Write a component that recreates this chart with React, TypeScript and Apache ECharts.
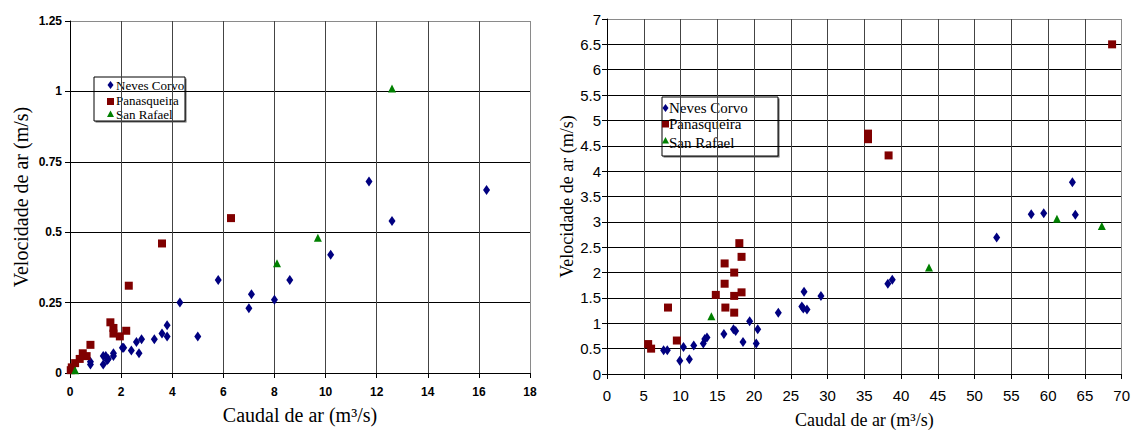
import React, { useEffect, useRef } from "react";
import * as echarts from "echarts";

// ---- Left chart data: [caudal (m3/s), velocidade (m/s)] ----
const leftNevesCorvo: number[][] = [
  [0.8, 0.04], [0.8, 0.03], [1.3, 0.06], [1.4, 0.06], [1.3, 0.03], [1.45, 0.045],
  [1.5, 0.05], [1.7, 0.07], [1.7, 0.06], [2.05, 0.09], [2.1, 0.09], [2.4, 0.08],
  [2.6, 0.11], [2.7, 0.07], [2.8, 0.12], [3.3, 0.12], [3.6, 0.14], [3.8, 0.17],
  [3.8, 0.13], [4.3, 0.25], [5.0, 0.13], [5.8, 0.33], [7.0, 0.23], [7.1, 0.28],
  [8.0, 0.26], [8.6, 0.33], [10.2, 0.42], [11.7, 0.68], [12.6, 0.54], [16.3, 0.65],
];
const leftPanasqueira: number[][] = [
  [0.03, 0.01], [0.07, 0.02], [0.2, 0.035], [0.38, 0.05], [0.5, 0.07], [0.65, 0.06],
  [0.8, 0.1], [1.58, 0.18], [1.7, 0.16], [1.7, 0.14], [1.95, 0.13], [2.2, 0.15],
  [2.3, 0.31], [3.6, 0.46], [6.3, 0.55],
];
const leftSanRafael: number[][] = [
  [0.2, 0.01], [8.1, 0.39], [9.7, 0.48], [12.6, 1.01],
];

// ---- Right chart data ----
const rightNevesCorvo: number[][] = [
  [7.7, 0.47], [8.2, 0.47], [9.9, 0.26], [10.4, 0.53], [11.2, 0.29], [11.8, 0.56],
  [13.1, 0.6], [13.3, 0.69], [13.6, 0.72], [15.9, 0.79], [17.2, 0.88], [17.5, 0.85],
  [18.5, 0.63], [19.4, 1.04], [20.3, 0.6], [20.5, 0.88], [23.3, 1.21], [26.5, 1.33],
  [26.7, 1.29], [27.2, 1.27], [26.8, 1.62], [29.1, 1.54], [38.2, 1.78], [38.8, 1.86],
  [53.0, 2.69], [57.7, 3.15], [59.4, 3.17], [63.3, 3.78], [63.7, 3.14],
];
const rightPanasqueira: number[][] = [
  [5.6, 0.59], [6.0, 0.5], [8.3, 1.31], [9.5, 0.66], [14.8, 1.56], [16.0, 2.18],
  [16.0, 1.78], [16.1, 1.31], [17.3, 2.0], [17.3, 1.54], [17.3, 1.21], [18.0, 2.58],
  [18.3, 2.31], [18.3, 1.61], [35.5, 4.74], [35.5, 4.63], [38.3, 4.31], [68.7, 6.5],
];
const rightSanRafael: number[][] = [
  [14.2, 1.14], [43.8, 2.1], [61.2, 3.06], [67.3, 2.92],
];

const seriesNames = ["Neves Corvo", "Panasqueira", "San Rafael"];
const seriesColors = ["#000080", "#800000", "#008000"];

const xTitle = "Caudal de ar (m³/s)";
const yTitle = "Velocidade de ar (m/s)";

const SERIF = "Liberation Serif, Times New Roman, serif";
const SANS = "Liberation Sans, Arial, sans-serif";

function makeOption() {
  const vCol = "#444";
  const hCol = "#000";
  const edge = "#8a8a8a";
  const leftX = { min: 0, max: 18, interval: 2 };
  const leftY = { min: 0, max: 1.25, interval: 0.25 };
  const rightX = { min: 0, max: 70, interval: 5 };
  const rightY = { min: 0, max: 7, interval: 0.5 };
  const colorsFor = (r: { min: number; max: number; interval: number }, c: string) => {
    const n = Math.round((r.max - r.min) / r.interval) + 1;
    const arr: string[] = [];
    for (let i = 0; i < n; i++) arr.push(i === n - 1 ? edge : c);
    return arr;
  };
  const axisCommon = {
    type: "value" as const,
    axisLine: { show: true, onZero: false, lineStyle: { color: "#000", width: 1 } },
    axisTick: { show: true, inside: false, length: 5, lineStyle: { color: "#000" } },
  };

  const mk = (data: number[][], idx: number, grid: number) => {
    const sym = ["diamond", "rect", "triangle"][idx];
    const size = idx === 0 ? [7, 10] : idx === 1 ? 8 : 8;
    return {
      name: seriesNames[idx],
      type: "scatter",
      xAxisIndex: grid,
      yAxisIndex: grid,
      data,
      symbol: sym,
      symbolSize: size,
      itemStyle: { color: seriesColors[idx], opacity: 1 },
      emphasis: { disabled: true },
    };
  };

  const legendBox = (
    x: number, y: number, w: number, h: number,
    rows: number[], markerX: number, textX: number, fontSize: number,
    markerRows: number[]
  ) => {
    const els: any[] = [
      { type: "rect", shape: { x: x + 1.5, y: y + 1.5, width: w, height: h }, style: { fill: "#666" }, silent: true },
      { type: "rect", shape: { x, y, width: w, height: h }, style: { fill: "#fff", stroke: "#000", lineWidth: 1 }, silent: true },
    ];
    const [d, s, t] = markerRows;
    els.push({
      type: "polygon",
      shape: { points: [[markerX, d - 4], [markerX + 3, d], [markerX, d + 4], [markerX - 3, d]] },
      style: { fill: seriesColors[0] },
    });
    els.push({
      type: "rect",
      shape: { x: markerX - 3.5, y: s - 3.5, width: 7, height: 7 },
      style: { fill: seriesColors[1] },
    });
    els.push({
      type: "polygon",
      shape: { points: [[markerX, t - 3.5], [markerX + 3.5, t + 3], [markerX - 3.5, t + 3]] },
      style: { fill: seriesColors[2] },
    });
    seriesNames.forEach((n, i) => {
      els.push({
        type: "text",
        x: textX,
        y: rows[i],
        style: {
          text: n,
          fill: "#000",
          fontFamily: SERIF,
          fontSize,
          align: "left",
          verticalAlign: "middle",
        },
      });
    });
    return els;
  };

  return {
    animation: false,
    backgroundColor: "#fff",
    grid: [
      { left: 70, top: 21, width: 460, height: 352 },
      { left: 607, top: 19, width: 518, height: 364 },
    ],
    xAxis: [
      {
        ...axisCommon,
        gridIndex: 0,
        ...leftX,
        axisLabel: { fontFamily: SANS, fontSize: 12, fontWeight: "bold", color: "#000", margin: 13 },
        splitLine: { show: true, lineStyle: { color: colorsFor(leftX, vCol), width: 1 } },
        name: xTitle,
        nameLocation: "middle",
        nameGap: 32,
        nameTextStyle: { fontFamily: SERIF, fontSize: 20, color: "#000" },
      },
      {
        ...axisCommon,
        gridIndex: 1,
        ...rightX,
        axisLabel: { fontFamily: SANS, fontSize: 15, color: "#000", margin: 14 },
        splitLine: { show: true, lineStyle: { color: colorsFor(rightX, vCol), width: 1 } },
        name: xTitle,
        nameLocation: "middle",
        nameGap: 37,
        nameTextStyle: { fontFamily: SERIF, fontSize: 18, color: "#000" },
      },
    ],
    yAxis: [
      {
        ...axisCommon,
        gridIndex: 0,
        ...leftY,
        axisLabel: { fontFamily: SANS, fontSize: 12, fontWeight: "bold", color: "#000", margin: 8 },
        splitLine: { show: true, lineStyle: { color: colorsFor(leftY, hCol), width: 1 } },
        name: yTitle,
        nameLocation: "middle",
        nameGap: 39,
        nameTextStyle: { fontFamily: SERIF, fontSize: 20, color: "#000" },
      },
      {
        ...axisCommon,
        gridIndex: 1,
        ...rightY,
        axisLabel: { fontFamily: SANS, fontSize: 15, color: "#000", margin: 6 },
        splitLine: { show: true, lineStyle: { color: colorsFor(rightY, hCol), width: 1 } },
        name: yTitle,
        nameLocation: "middle",
        nameGap: 31,
        nameTextStyle: { fontFamily: SERIF, fontSize: 18, color: "#000" },
      },
    ],
    series: [
      mk(leftNevesCorvo, 0, 0),
      mk(leftPanasqueira, 1, 0),
      mk(leftSanRafael, 2, 0),
      mk(rightNevesCorvo, 0, 1),
      mk(rightPanasqueira, 1, 1),
      mk(rightSanRafael, 2, 1),
    ],
    graphic: [
      ...legendBox(94, 77, 91, 44, [85, 100.5, 114.5], 110.5, 116, 13, [85, 101.5, 114]),
      ...legendBox(662, 97, 116, 59, [108, 124, 143], 665.5, 669, 15, [108, 124, 140.5]),
    ],
  };
}

export default function App() {
  const ref = useRef<HTMLDivElement>(null);
  useEffect(() => {
    if (!ref.current) return;
    const chart = echarts.init(ref.current, null, { renderer: "svg" });
    chart.setOption(makeOption() as any);
    return () => chart.dispose();
  }, []);
  return (
    <div
      ref={ref}
      style={{ position: "absolute", left: 0, top: 0, width: 1133, height: 434, background: "#fff" }}
    />
  );
}
